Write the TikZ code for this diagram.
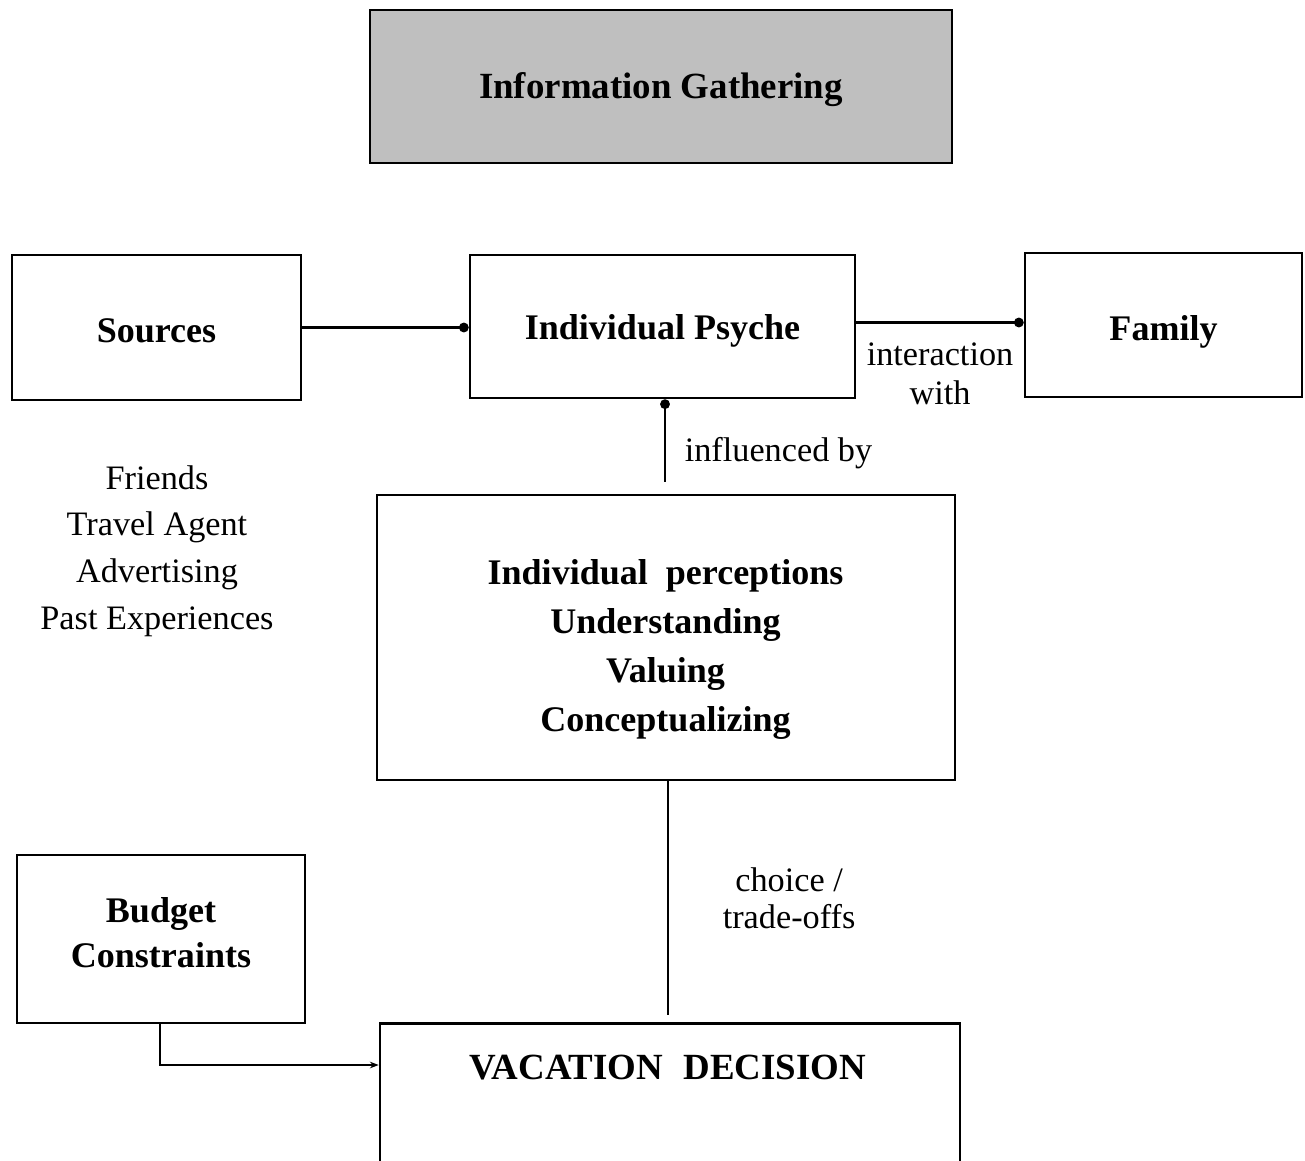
\documentclass[tikz,border=0pt]{standalone}
\usepackage{fontspec}
\setmainfont{Liberation Serif}
\usetikzlibrary{arrows.meta}

\begin{document}
\begin{tikzpicture}[
  box/.style = {rectangle, draw, line width = 1.5pt, align = center,
                font = \bfseries\fontsize{20.5}{27}\selectfont},
  boxtext/.style = {align = center, font = \bfseries\fontsize{20.5}{28}\selectfont},
  conn/.style = {line width = 1.6pt},
  lbl/.style = {align = center, font = \fontsize{19.5}{23}\selectfont},
  dot/.style = {-{Circle[length = 5.5pt]}}
]
\useasboundingbox (0, 0) rectangle (26.1, -23.2);

%%% Top
\node [box, fill = black!25, minimum width = 11.64cm, minimum height = 3.06cm, text height = 18.6pt, text depth = 4.5pt, font = \bfseries\fontsize{21}{27}\selectfont] (info) at (13.22, -1.73) {Information Gathering};

%%% Row of three
\node [box, minimum width = 5.78cm, minimum height = 2.9cm, text height = 17.4pt, text depth = 0pt] (sources) at (3.13, -6.55) {Sources};

\node [box, minimum width = 7.7cm, minimum height = 2.86cm, text height = 19.6pt, text depth = 4.5pt] (psyche) at (13.25, -6.53) {Individual Psyche};

\node [box, minimum width = 5.54cm, minimum height = 2.88cm, text height = 22pt, text depth = 4.5pt] (family) at (23.27, -6.5) {Family};

\node [lbl, font = \fontsize{19.5}{26.5}\selectfont] (srclist) at (3.14, -11.02) {Friends\\Travel Agent\\Advertising\\Past Experiences};

%%% Perceptions
\node [box, minimum width = 11.56cm, minimum height = 5.7cm] (percept) at (13.32, -12.75) {};
\node [boxtext] (percepttext) at (13.31, -12.99) {Individual~~perceptions\\Understanding\\Valuing\\Conceptualizing};

%%% Bottom
\node [box, minimum width = 5.76cm, minimum height = 3.36cm] (budget) at (3.22, -18.78) {};
\node [boxtext, font = \bfseries\fontsize{20.5}{25.5}\selectfont] (budgettext) at (3.22, -18.66) {Budget\\Constraints};

\node [box, minimum width = 11.6cm, minimum height = 3.2cm, anchor = north] (vacation) at (13.4, -20.44) {};
\node [boxtext, font = \bfseries\fontsize{21}{28}\selectfont] (vactext) at (13.36, -21.36) {VACATION\hspace{0.55em}DECISION};

%%% Connectors
\draw [conn, dot] (sources.east) -- (sources.east -| psyche.west);

\draw [conn, dot] ([yshift = 0.08cm]psyche.east) -- ([yshift = 0.08cm]psyche.east -| family.west)
      node [lbl, below = 0.27cm, midway, font = \fontsize{19.5}{22}\selectfont] {interaction\\with};

\draw [conn, dot] ([xshift = -0.02cm, yshift = 0.24cm]percept.north) -- ([xshift = -0.02cm]percept.north |- psyche.south)
      node [lbl, right = 0.25cm, pos = 0.35] {influenced by};

\draw [conn] ([xshift = 0.04cm]percept.south) -- ([xshift = 0.04cm, yshift = 0.14cm]percept.south |- vacation.north)
      node [lbl, right = 0.95cm, midway, font = \fontsize{19.5}{21.5}\selectfont] {choice /\\trade-offs};

\draw [conn, line width = 1.3pt, -{Stealth[length = 5pt]}] ([xshift = -0.02cm]budget.south) |- ([yshift = -0.86cm]vacation.north west);

\end{tikzpicture}
\end{document}
